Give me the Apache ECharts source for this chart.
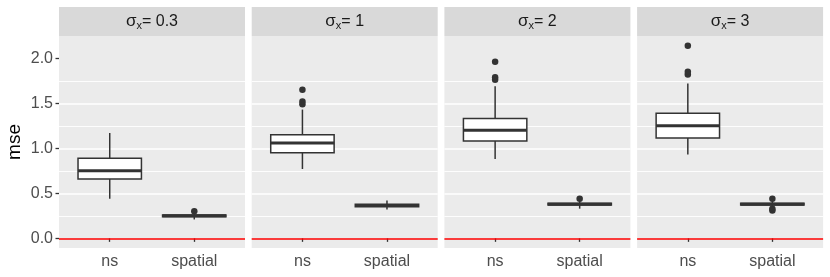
<!DOCTYPE html>
<html><head><meta charset="utf-8">
<script src="https://cdn.jsdelivr.net/npm/echarts@6/dist/echarts.min.js"></script>
<style>html,body{margin:0;padding:0;background:#fff}#c{width:830px;height:277px}</style>
</head><body><div id="c"></div>
<script>
const categories = ['ns', 'spatial'];
const panelLabels = ['0.3', '1', '2', '3'];
const yTicks = [0, 0.5, 1, 1.5, 2];
// whisker-low, Q1, median, Q3, whisker-high for each panel
const nsBoxes = [
  [0.44, 0.66, 0.75, 0.89, 1.17],
  [0.77, 0.95, 1.06, 1.15, 1.43],
  [0.88, 1.08, 1.20, 1.33, 1.69],
  [0.93, 1.115, 1.25, 1.39, 1.72]
];
const spatialBoxes = [
  [0.21, 0.24, 0.25, 0.26, 0.28],
  [0.32, 0.35, 0.365, 0.38, 0.42],
  [0.33, 0.37, 0.38, 0.39, 0.42],
  [0.34, 0.37, 0.38, 0.39, 0.42]
];
const nsOutliers = [[], [1.49, 1.52, 1.65], [1.76, 1.79, 1.96], [1.82, 1.85, 2.14]];
const spatialOutliers = [[0.30], [], [0.44], [0.31, 0.33, 0.44]];
const refLine = 0;

const FONT = '"Liberation Sans", Arial, sans-serif';
const chart = echarts.init(document.getElementById('c'), null, {renderer: 'canvas'});

// y range like ggplot: data range (incl. reference line) expanded by 5%
const allVals = [refLine];
nsBoxes.concat(spatialBoxes).forEach(b => allVals.push(...b));
nsOutliers.concat(spatialOutliers).forEach(o => allVals.push(...o));
const dMin = Math.min(...allVals), dMax = Math.max(...allVals);
const pad = (dMax - dMin) * 0.05;
const yMin = dMin - pad, yMax = dMax + pad;

const panelLeft0 = 59, panelW = 186, panelStep = 192.7, panelTop = 36, panelH = 212;
const stripTop = 7, stripH = 29;

const grids = [], xAxes = [], yAxes = [], series = [], graphics = [];

function renderBox(params, api) {
  const x = api.value(0);
  const pLo = api.coord([x, api.value(1)]);
  const pQ1 = api.coord([x, api.value(2)]);
  const pMed = api.coord([x, api.value(3)]);
  const pQ3 = api.coord([x, api.value(4)]);
  const pHi = api.coord([x, api.value(5)]);
  const w = api.size([0.75, 0])[0];
  const cx = pMed[0];
  const stroke = '#333333';
  return {type: 'group', children: [
    {type: 'line', shape: {x1: cx, y1: pLo[1], x2: cx, y2: pQ1[1]}, style: {stroke, lineWidth: 1.5}},
    {type: 'line', shape: {x1: cx, y1: pQ3[1], x2: cx, y2: pHi[1]}, style: {stroke, lineWidth: 1.5}},
    {type: 'rect', shape: {x: cx - w / 2, y: pQ3[1], width: w, height: pQ1[1] - pQ3[1]},
      style: {fill: '#ffffff', stroke, lineWidth: 1.5}},
    {type: 'line', shape: {x1: cx - w / 2, y1: pMed[1], x2: cx + w / 2, y2: pMed[1]},
      style: {stroke, lineWidth: 3}}
  ]};
}

panelLabels.forEach((lab, i) => {
  const left = panelLeft0 + i * panelStep;
  grids.push({left: left, top: panelTop, width: panelW, height: panelH, show: true,
    backgroundColor: '#EBEBEB', borderWidth: 0, containLabel: false});
  xAxes.push({type: 'value', gridIndex: i, min: 0.4, max: 2.6, splitNumber: 2, minInterval: 1,
    axisLine: {show: false},
    axisTick: {show: true, length: 3.5, customValues: [1, 2], lineStyle: {color: '#333333', width: 1.3}},
    axisLabel: {show: true, customValues: [1, 2], margin: 6, fontFamily: FONT, fontSize: 16, color: '#4D4D4D',
      formatter: v => categories[Math.round(v) - 1] || ''},
    splitLine: {show: true, showMinLine: false, showMaxLine: false, lineStyle: {color: '#FFFFFF', width: 1.7}}
  });
  yAxes.push({type: 'value', gridIndex: i, min: yMin, max: yMax, splitNumber: 5,
    name: i === 0 ? 'mse' : '', nameLocation: 'middle', nameGap: 35, nameRotate: 90,
    nameTextStyle: {fontFamily: FONT, fontSize: 19, color: '#000000'},
    axisLine: {show: false},
    axisTick: {show: i === 0, length: 3.5, customValues: yTicks, lineStyle: {color: '#333333', width: 1.3}},
    axisLabel: {show: i === 0, customValues: yTicks, margin: 6, fontFamily: FONT, fontSize: 16, color: '#4D4D4D',
      formatter: v => v.toFixed(1)},
    splitLine: {show: true, showMinLine: false, showMaxLine: false, lineStyle: {color: '#FFFFFF', width: 1.7}},
    minorTick: {show: false, splitNumber: 2},
    minorSplitLine: {show: true, lineStyle: {color: '#FFFFFF', width: 0.9}}
  });

  const boxData = [[1].concat(nsBoxes[i]), [2].concat(spatialBoxes[i])];
  series.push({type: 'custom', xAxisIndex: i, yAxisIndex: i, renderItem: renderBox,
    encode: {x: 0, y: [1, 2, 3, 4, 5]}, data: boxData, silent: true, z: 3});
  const pts = nsOutliers[i].map(v => [1, v]).concat(spatialOutliers[i].map(v => [2, v]));
  series.push({type: 'scatter', xAxisIndex: i, yAxisIndex: i, data: pts, symbolSize: 6.5,
    itemStyle: {color: '#333333', opacity: 1}, silent: true, z: 4,
    markLine: {silent: true, symbol: ['none', 'none'], label: {show: false},
      lineStyle: {color: '#FF0000', width: 1.6, type: 'solid'}, emphasis: {disabled: true},
      data: [{yAxis: refLine}]}
  });

  graphics.push({type: 'rect', left: left, top: stripTop, shape: {width: panelW, height: stripH},
    style: {fill: '#D9D9D9'}, silent: true});
  graphics.push({type: 'text', x: left + panelW / 2, y: stripTop + stripH / 2, silent: true,
    style: {text: '{s|σ}{b|x}{a|= ' + lab + '}', align: 'center', verticalAlign: 'middle',
      rich: {
        s: {fontFamily: FONT, fontSize: 17, fill: '#1A1A1A', lineHeight: 20, verticalAlign: 'middle'},
        a: {fontFamily: FONT, fontSize: 16, fill: '#1A1A1A', lineHeight: 20, verticalAlign: 'middle'},
        b: {fontFamily: FONT, fontSize: 11, fill: '#1A1A1A', lineHeight: 20, verticalAlign: 'bottom'}
      }}});
});

chart.setOption({
  animation: false,
  backgroundColor: '#FFFFFF',
  grid: grids, xAxis: xAxes, yAxis: yAxes, series: series, graphic: graphics
});
</script></body></html>
